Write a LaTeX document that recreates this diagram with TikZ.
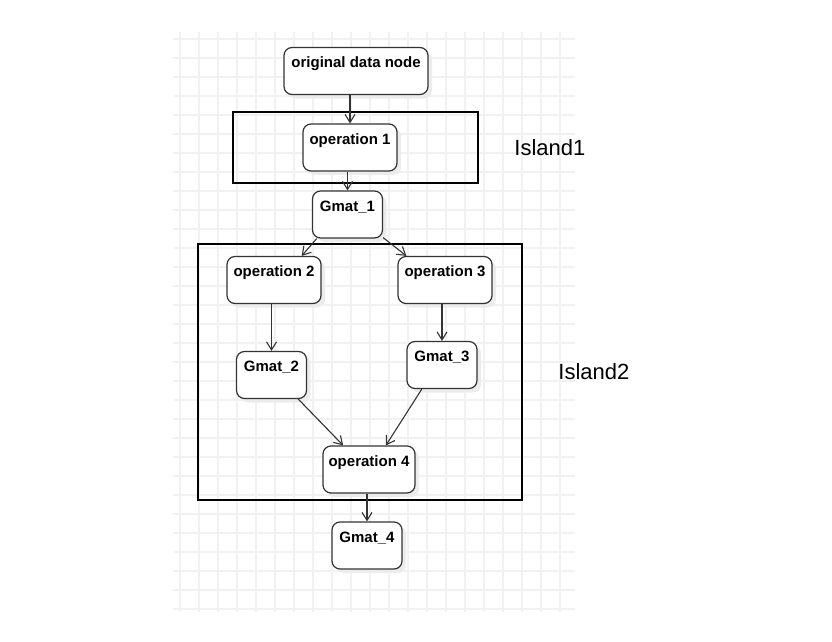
\documentclass[tikz,border=0pt]{standalone}
\usepackage{fontspec}
\setmainfont{Liberation Sans}
\usetikzlibrary{positioning, arrows.meta, shadows}
\definecolor{gridGray}{HTML}{F1F1F1}
\definecolor{edgeGray}{HTML}{333333}
\definecolor{shadeGray}{HTML}{ECECEC}

\begin{document}
\begin{tikzpicture}[
    x=1pt, y=-1pt,
    blk/.style={draw=edgeGray, fill=white, rounded corners=8pt, line width=1.2pt,
      minimum height=47pt, text height=11pt, text depth=18pt,
      font=\fontsize{15}{18}\selectfont\bfseries,
      general shadow={fill=shadeGray, shadow xshift=4pt, shadow yshift=-4pt}},
    op/.style={blk, minimum width=94pt},
    gm/.style={blk, minimum width=70pt},
    island/.style={draw=black, line width=1.8pt, inner sep=0pt},
    islandlbl/.style={font=\fontsize{22}{26}\selectfont},
    arr/.style={-{Straight Barb[length=8pt, width=10pt]}, draw=edgeGray, line width=1.1pt},
  ]
    \useasboundingbox (0,0) rectangle (832,642);

    % grid
    \foreach \gx in {180,199,...,560}
      \draw[gridGray, line width=1.2pt] (\gx,32) -- (\gx,612);
    \foreach \gy in {39,58,...,609}
      \draw[gridGray, line width=1.2pt] (173,\gy) -- (575,\gy);

    % islands
    \node[island, minimum width=245pt, minimum height=71pt] (box1) at (355.5,147.5) {};
    \node[island, minimum width=324pt, minimum height=256pt] (box2) at (360,372) {};
    \node[islandlbl, right=32pt of box1] (isl1) {Island1};
    \node[islandlbl, right=32pt of box2] (isl2) {Island2};

    % data and operations
    \node[blk, minimum width=144pt] (orig) at (356,71) {original data node};
    \node[op] (op1) at (350,147.5) {operation 1};
    \node[gm] (g1) at (347.5,214.5) {Gmat\_1};
    \node[op] (op2) at (274,280) {operation 2};
    \node[op] (op3) at (445,280) {operation 3};
    \node[gm] (g2) at (271.5,375) {Gmat\_2};
    \node[gm] (g3) at (442,365) {Gmat\_3};
    \node[op, minimum width=92pt] (op4) at (369,469.5) {operation 4};
    \node[gm] (g4) at (367,545.5) {Gmat\_4};

    % edges
    \draw[arr] (orig.south -| op1.north) -- (op1.north);
    \draw[arr] (op1.south -| g1.north) -- (g1.north);
    \draw[arr] (g1.218) -- (op2.41);
    \draw[arr] (g1.-33) -- (op3.148);
    \draw[arr] (op2.south -| g2.north) -- (g2.north);
    \draw[arr] (op3.south -| g3.north) -- (g3.north);
    \draw[arr] (g2.-42) -- (op4.137);
    \draw[arr] (g3.230) -- (op4.55);
    \draw[arr] (op4.south -| g4.north) -- (g4.north);
\end{tikzpicture}
\end{document}
